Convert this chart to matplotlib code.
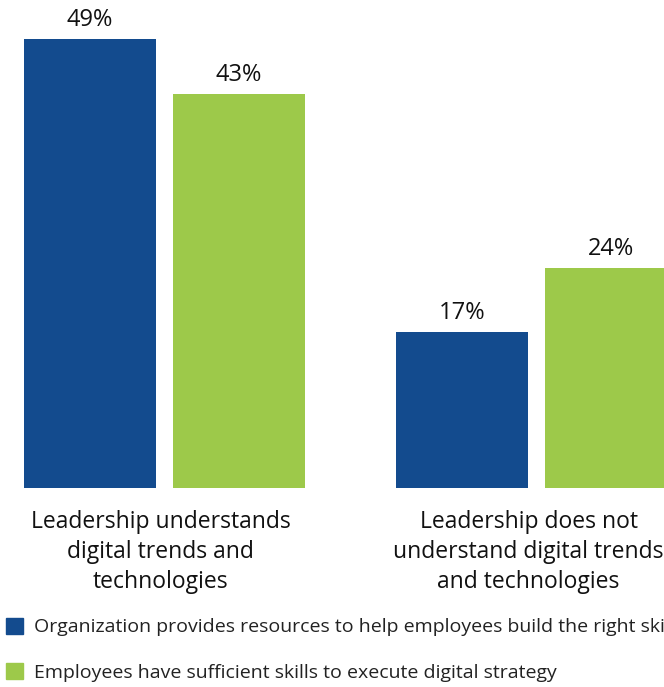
import matplotlib
matplotlib.use("Agg")
import matplotlib.pyplot as plt
from matplotlib.patches import Patch
from matplotlib.transforms import ScaledTranslation

# Daten
categories = ["Leadership understands\ndigital trends and\ntechnologies",
              "Leadership does not\nunderstand digital trends\nand technologies"]
series_names = ["Organization provides resources to help employees build the right skills",
                "Employees have sufficient skills to execute digital strategy"]
resources = [49, 17]
skills = [43, 24]
value_labels = [["49%", "17%"], ["43%", "24%"]]

BLUE = "#134b8e"
GREEN = "#9dc94a"
TEXT = "#111111"

fig = plt.figure(figsize=(6.64, 6.87), dpi=100)
ax = fig.add_axes([0, 1 - 488 / 687, 1, 488 / 687])

period = 372.0
width = 132 / period
offset = 74.5 / period
x = range(len(categories))

series = [resources, skills]
colors = [BLUE, GREEN]
for i, vals in enumerate(series):
    pos = [xi + (2 * i - 1) * offset for xi in x]
    bars = ax.bar(pos, vals, width=width, color=colors[i], label=series_names[i])
    for b, lab in zip(bars, value_labels[i]):
        ax.annotate(lab, (b.get_x() + b.get_width() / 2, b.get_height()),
                    xytext=(0, 7), textcoords="offset pixels", ha="center", va="bottom",
                    fontsize=17, color=TEXT, family="Open Sans")

ax.set_xlim(-164.5 / period, (664 - 164.5) / period)
ax.set_ylim(0, 488 / 9.16)
ax.set_xticks(list(x))
ax.set_xticklabels(categories, fontsize=16.5, color=TEXT, family="Open Sans", linespacing=1.32)
ax.tick_params(axis="x", length=0, pad=16)
# Kategorien leicht nach links versetzt wie im Original
for lbl, dx in zip(ax.get_xticklabels(), [-4, -8]):
    lbl.set_transform(lbl.get_transform() + ScaledTranslation(dx / 100, 0, fig.dpi_scale_trans))
ax.set_yticks([])
for s in ax.spines.values():
    s.set_visible(False)

handles = [Patch(color=c) for c in colors]
fig.legend(handles, series_names, loc="upper left", bbox_to_anchor=(0.0, 1 - 612 / 687),
           frameon=False,
           prop={"family": "Open Sans", "size": 14},
           handlelength=0.88, handleheight=0.88, handletextpad=0.55, labelspacing=1.38,
           borderaxespad=0, borderpad=0.3)
for t in fig.legends[0].get_texts():
    t.set_color("#222222")

fig.savefig("out.png", dpi=100)
